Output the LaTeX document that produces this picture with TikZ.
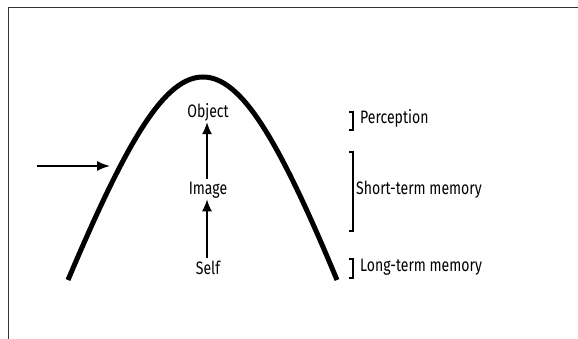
\documentclass[tikz,border=0pt]{standalone}
\usepackage{fontspec}
\setmainfont[FakeStretch=0.78]{Fira Sans}
\usetikzlibrary{arrows.meta}
\definecolor{frame}{HTML}{333333}
\tikzset{
  stage/.style={font=\fontsize{18}{20}\selectfont,inner sep=1pt},
  level/.style={font=\fontsize{18}{20}\selectfont,anchor=west,inner sep=1pt},
  flow/.style={line width=1.6pt,-{Latex[length=12pt,width=10pt]}},
  brace/.style={line width=1.4pt}
}
\begin{document}
\begin{tikzpicture}[x=1pt,y=-1pt]
  \useasboundingbox (0,0) rectangle (578,339);
  % frame on two sides only
  \draw[frame,line width=1pt] (8,339) -- (8,8) -- (578,8);

  % the hill
  \draw[line width=5pt] (68,280) .. controls (128,138) and (165,77) .. (203,77)
    .. controls (241,77) and (278,138) .. (337,280);

  % stages inside the hill
  \node[stage] (object) at (208,112) {Object};
  \node[stage] (image) at (208,190) {Image};
  \node[stage] (self) at (208,268) {Self};
  \draw[flow] (image.north) ++(-1,-2) coordinate (i0) -- (i0 |- object.south);
  \draw[flow] (self.north) ++(-1,-2) coordinate (s0) -- (s0 |- image.south);

  % incoming arrow
  \coordinate (in0) at (37,166);
  \coordinate (in1) at (110,166);
  \draw[line width=1.6pt,-{Latex[length=13pt,width=10pt]}] (in0) -- (in1);

  % levels on the right
  \draw[brace] (349,112) -- (353,112) -- (353,130) -- (349,130);
  \node[level] (perc) at (359,118) {Perception};
  \draw[brace] (349,152) -- (353,152) -- (353,231) -- (349,231);
  \node[level] (stm) at (355,190) {Short-term memory};
  \draw[brace] (349,259) -- (353,259) -- (353,278) -- (349,278);
  \node[level] (ltm) at (359,267) {Long-term memory};
\end{tikzpicture}
\end{document}
